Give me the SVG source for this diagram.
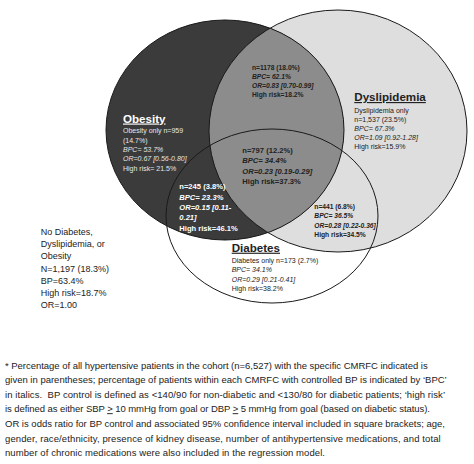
<svg xmlns="http://www.w3.org/2000/svg" width="474" height="464" viewBox="0 0 474 464">
<style>
text{font-family:"Liberation Sans",Arial,sans-serif}
.title{font-size:11.6px;font-weight:bold;text-decoration:underline}
.reg{font-size:7px}
.bs{font-size:6.7px;font-weight:bold}
.bl{font-size:7.6px;font-weight:bold}
.it{font-style:italic}
.dark{fill:#222}
.light{fill:#e6e6e6}
.white{fill:#ffffff}
.outline{fill:none;stroke:#1a1a1a;stroke-width:1}
.note{font-size:9px;fill:#222}
.foot{font-size:9.5px;fill:#222}
</style>
<defs>
<clipPath id="clipOb"><ellipse cx="225" cy="130" rx="119" ry="110"/></clipPath>
</defs>
<rect width="474" height="464" fill="#ffffff"/>
<g id="shapes">
<ellipse id="dysShape" cx="338" cy="131" rx="129" ry="121" fill="#dedede"/>
<ellipse id="obShape" cx="225" cy="130" rx="119" ry="110" fill="#3b3b3b"/>
<ellipse cx="338" cy="131" rx="129" ry="121" fill="#8c8c8c" clip-path="url(#clipOb)"/>
<ellipse class="outline" cx="338" cy="131" rx="129" ry="121"/>
<ellipse class="outline" cx="225" cy="130" rx="119" ry="110"/>
<ellipse id="diaShape" class="outline" cx="272" cy="216" rx="106" ry="87"/>
</g>
<g id="obesity">
<text class="title white" x="123" y="122.5">Obesity</text>
<text class="reg light" x="123" y="133.2">Obesity only n=959</text>
<text class="reg light" x="123" y="142.5">(14.7%)</text>
<text class="reg light it" x="123" y="151.8">BPC= 53.7%</text>
<text class="reg light it" x="123" y="161.2">OR=0.67 [0.56-0.80]</text>
<text class="reg light" x="123" y="170.5">High risk= 21.5%</text>
</g>
<g id="obesity-dyslipidemia">
<text class="bs dark" x="252" y="69.9">n=1178 (18.0%)</text>
<text class="bs dark it" x="252" y="78.9">BPC= 62.1%</text>
<text class="bs dark it" x="252" y="87.9">OR=0.83 [0.70-0.99]</text>
<text class="bs dark" x="252" y="96.9">High risk=18.2%</text>
</g>
<g id="dyslipidemia">
<text class="title dark" x="354.3" y="101">Dyslipidemia</text>
<text class="reg dark" x="354.3" y="113.2">Dyslipidemia only</text>
<text class="reg dark" x="354.3" y="122">n=1,537 (23.5%)</text>
<text class="reg dark it" x="354.3" y="131">BPC= 67.3%</text>
<text class="reg dark it" x="354.3" y="140">OR=1.09 [0.92-1.28]</text>
<text class="reg dark" x="354.3" y="149.2">High risk=15.9%</text>
</g>
<g id="all-three">
<text class="bl dark" x="242.3" y="152.7">n=797 (12.2%)</text>
<text class="bl dark it" x="242.3" y="163.2">BPC= 34.4%</text>
<text class="bl dark it" x="242.3" y="173.7">OR=0.23 [0.19-0.29]</text>
<text class="bl dark" x="242.3" y="184.4">High risk=37.3%</text>
</g>
<g id="obesity-diabetes">
<text class="bl white" x="179.3" y="189.4">n=245 (3.8%)</text>
<text class="bl white it" x="179.3" y="199.6">BPC= 23.3%</text>
<text class="bl white it" x="179.3" y="210">OR=0.15 [0.11-</text>
<text class="bl white it" x="179.3" y="220.3">0.21]</text>
<text class="bl white" x="179.3" y="230.7">High risk=46.1%</text>
</g>
<g id="dyslipidemia-diabetes">
<text class="bs dark" x="314.3" y="209.1">n=441 (6.8%)</text>
<text class="bs dark it" x="314.3" y="218.4">BPC= 36.5%</text>
<text class="bs dark it" x="314.3" y="228">OR=0.28 [0.22-0.36]</text>
<text class="bs dark" x="314.3" y="237.4">High risk=34.5%</text>
</g>
<g id="diabetes">
<text class="title dark" x="231.7" y="251.7">Diabetes</text>
<text class="reg dark" x="231.7" y="262.5">Diabetes only n=173 (2.7%)</text>
<text class="reg dark it" x="231.7" y="271.8">BPC= 34.1%</text>
<text class="reg dark it" x="231.7" y="281.5">OR=0.29 [0.21-0.41]</text>
<text class="reg dark" x="231.7" y="291.3">High risk=38.2%</text>
</g>
<g id="none">
<text class="note" x="40.7" y="235">No Diabetes,</text>
<text class="note" x="40.7" y="247.2">Dyslipidemia, or</text>
<text class="note" x="40.7" y="259.2">Obesity</text>
<text class="note" x="40.7" y="271.5">N=1,197 (18.3%)</text>
<text class="note" x="40.7" y="283.8">BP=63.4%</text>
<text class="note" x="40.7" y="296">High risk=18.7%</text>
<text class="note" x="40.7" y="308.2">OR=1.00</text>
</g>
<g id="footnote">
<text class="foot" x="5" y="368.5" textLength="422.7">* Percentage of all hypertensive patients in the cohort (n=6,527) with the specific CMRFC indicated is</text>
<text class="foot" x="5" y="383" textLength="441.7">given in parentheses; percentage of patients within each CMRFC with controlled BP is indicated by ‘BPC’</text>
<text class="foot" x="5" y="397.5" textLength="440">in italics. &#160;BP control is defined as &lt;140/90 for non-diabetic and &lt;130/80 for diabetic patients; ‘high risk’</text>
<text class="foot" x="5" y="412.2" textLength="425">is defined as either SBP <tspan text-decoration="underline">&gt;</tspan> 10 mmHg from goal or DBP <tspan text-decoration="underline">&gt;</tspan> 5 mmHg from goal (based on diabetic status).</text>
<text class="foot" x="5" y="426.8" textLength="440">OR is odds ratio for BP control and associated 95% confidence interval included in square brackets; age,</text>
<text class="foot" x="5" y="441.5" textLength="435.7">gender, race/ethnicity, presence of kidney disease, number of antihypertensive medications, and total</text>
<text class="foot" x="5" y="456" textLength="320">number of chronic medications were also included in the regression model.</text>
</g>
</svg>
